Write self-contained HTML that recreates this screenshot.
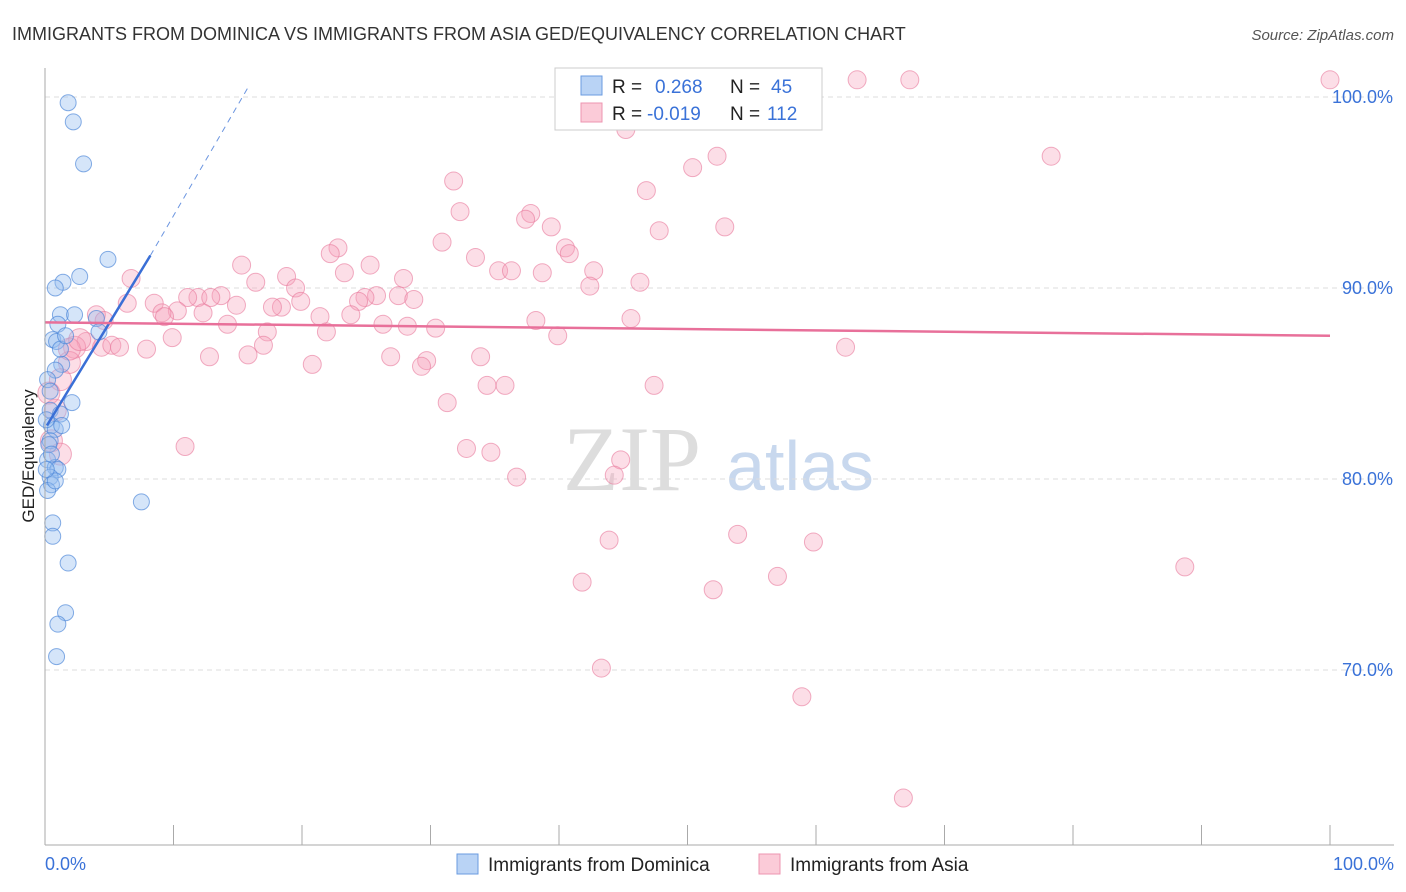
<!DOCTYPE html>
<html><head><meta charset="utf-8"><style>
body{margin:0;background:#fff;font-family:"Liberation Sans",sans-serif}
svg{display:block}
</style></head><body>
<svg id="chart" width="1406" height="892">
<text x="12" y="40" font-size="18" fill="#333">IMMIGRANTS FROM DOMINICA VS IMMIGRANTS FROM ASIA GED/EQUIVALENCY CORRELATION CHART</text>
<text x="1394" y="40" font-size="15" fill="#555" text-anchor="end" font-style="italic">Source: ZipAtlas.com</text>
<text x="0" y="0" transform="translate(34,456) rotate(-90)" font-size="17" fill="#222" text-anchor="middle">GED/Equivalency</text>
<g><text x="632" y="490" font-size="92" fill="#ddd" text-anchor="middle" font-family="Liberation Serif,serif">ZIP</text><text x="800" y="490" font-size="70" fill="#c8d8ee" text-anchor="middle">atlas</text></g>
<g id="grid"></g><g id="pts"></g><g id="trend"></g>
<line x1="45" y1="68" x2="45" y2="845" stroke="#aaa"/>
<line x1="45" y1="845" x2="1394" y2="845" stroke="#aaa"/>
<text x="45" y="870" font-size="18" fill="#3a72d8">0.0%</text>
<text x="1394" y="870" font-size="18" fill="#3a72d8" text-anchor="end">100.0%</text>
<g>
<rect x="555" y="68" width="267" height="62" fill="#fff" stroke="#ccc"/>
<rect x="581" y="76" width="21" height="19" fill="#b9d3f5" stroke="#6a9be0"/>
<rect x="581" y="103" width="21" height="19" fill="#fbcbd8" stroke="#ee94b0"/>
<text x="612" y="93" font-size="19" fill="#222">R = </text><text x="655" y="93" font-size="19" fill="#3a72d8">0.268</text>
<text x="730" y="93" font-size="19" fill="#222">N = </text><text x="771" y="93" font-size="19" fill="#3a72d8">45</text>
<text x="612" y="120" font-size="19" fill="#222">R = </text><text x="647" y="120" font-size="19" fill="#3a72d8">-0.019</text>
<text x="730" y="120" font-size="19" fill="#222">N = </text><text x="767" y="120" font-size="19" fill="#3a72d8">112</text>
</g>
<g><rect x="457" y="854" width="21" height="20" fill="#b9d3f5" stroke="#6a9be0"/><text x="488" y="871" font-size="19" fill="#222">Immigrants from Dominica</text></g>
<g><rect x="759" y="854" width="21" height="20" fill="#fbcbd8" stroke="#ee94b0"/><text x="790" y="871" font-size="19" fill="#222">Immigrants from Asia</text></g>
</svg>
<script>
const yTicks=[100,90,80,70];
const yTickLabels=["100.0%","90.0%","80.0%","70.0%"];
const xTicks=[0,10,20,30,40,50,60,70,80,90,100];
const blueX=[1.8,2.2,3.0,4.9,2.7,1.4,0.8,1.2,2.3,1.0,4.0,0.6,0.9,1.3,0.8,0.2,2.1,0.4,1.2,0.5,0.8,0.4,0.2,0.8,1.0,0.4,0.5,0.2,7.5,0.6,0.6,1.8,1.6,1.0,0.9,1.2,4.2,0.4,0.3,0.5,0.8,0.1,1.3,1.6,0.1];
const blueY=[99.7,98.7,96.5,91.5,90.6,90.3,90.0,88.6,88.6,88.1,88.4,87.3,87.2,86.0,85.7,85.2,84.0,83.6,83.4,82.8,82.6,82.0,81.0,80.6,80.5,80.1,79.7,79.4,78.8,77.7,77.0,75.6,73.0,72.4,70.7,86.8,87.7,84.6,81.8,81.3,79.9,80.5,82.8,87.5,83.1];
const pinkX=[100,63.2,67.3,53.3,45.2,52.3,50.4,78.3,31.8,46.8,32.3,37.8,37.4,39.4,47.8,52.9,30.9,22.8,22.2,40.5,40.8,33.5,15.3,25.3,35.3,36.3,38.7,23.3,42.7,18.8,6.7,46.3,42.4,16.4,27.9,19.5,25.8,24.9,11.9,11.1,13.7,12.9,8.5,6.4,27.5,28.7,19.9,18.4,17.7,24.4,14.9,10.3,12.3,9.1,9.3,21.4,23.8,4.0,4.6,14.2,26.3,28.2,38.2,45.6,30.4,17.3,21.9,9.9,39.9,3.2,2.3,4.4,5.2,5.8,7.9,17.0,62.3,12.8,15.8,26.9,33.9,29.7,29.3,20.8,1.9,34.4,35.8,47.4,31.3,10.9,32.8,34.7,44.8,36.7,44.3,53.9,43.9,59.8,88.7,41.8,57.0,52.0,43.3,58.9,66.8,1.2,0.8,0.5,1.2,1.9,2.7,0.3];
const pinkY=[100.9,100.9,100.9,99.6,98.3,96.9,96.3,96.9,95.6,95.1,94.0,93.9,93.6,93.2,93.0,93.2,92.4,92.1,91.8,92.1,91.8,91.6,91.2,91.2,90.9,90.9,90.8,90.8,90.9,90.6,90.5,90.3,90.1,90.3,90.5,90.0,89.6,89.5,89.5,89.5,89.6,89.5,89.2,89.2,89.6,89.4,89.3,89.0,89.0,89.3,89.1,88.8,88.7,88.7,88.5,88.5,88.6,88.6,88.3,88.1,88.1,88.0,88.3,88.4,87.9,87.7,87.7,87.4,87.5,87.2,86.9,86.9,87.0,86.9,86.8,87.0,86.9,86.4,86.5,86.4,86.4,86.2,85.9,86.0,86.1,84.9,84.9,84.9,84.0,81.7,81.6,81.4,81.0,80.1,80.2,77.1,76.8,76.7,75.4,74.6,74.9,74.2,70.1,68.6,63.3,85.2,83.6,82.0,81.3,86.8,87.3,84.5];
const blueTrend=[[0.15,82.8],[8.2,91.7],[15.8,100.5]];
const pinkTrend=[[0,88.2],[100,87.5]];
const X=v=>45+v*12.85, Y=v=>97+(100-v)*19.1;
const NS="http://www.w3.org/2000/svg";
function mk(tag,attrs,parent){const e=document.createElementNS(NS,tag);for(const k in attrs)e.setAttribute(k,attrs[k]);parent.appendChild(e);return e;}
const grid=document.getElementById('grid'),pts=document.getElementById('pts'),tr=document.getElementById('trend');
yTicks.forEach((t,i)=>{
 const l=mk('line',{x1:45,x2:1394,y1:Y(t),y2:Y(t),stroke:'#ddd','stroke-dasharray':'5,4'},grid);
 
 
 const tx=mk('text',{x:1393,y:Y(t)+6,'font-size':18,fill:'#3a72d8','text-anchor':'end'},grid);
 tx.textContent=yTickLabels[i];
 
 
});
xTicks.forEach(t=>{
 const l=mk('line',{x1:X(t),x2:X(t),y1:825,y2:845,stroke:'#aaa'},grid);
 
 
});
pinkX.forEach((x,i)=>{
 const c=mk('circle',{cx:X(x),cy:Y(pinkY[i]),r:(x<3?11:9),fill:'rgba(245,160,185,0.35)',stroke:'rgba(232,120,155,0.6)','stroke-width':1},pts);
 
 
});
blueX.forEach((x,i)=>{
 const c=mk('circle',{cx:X(x),cy:Y(blueY[i]),r:8,fill:'rgba(150,190,240,0.4)',stroke:'rgba(70,130,215,0.65)','stroke-width':1},pts);
 
 
});
const b1=mk('line',{x1:X(blueTrend[0][0]),y1:Y(blueTrend[0][1]),x2:X(blueTrend[1][0]),y2:Y(blueTrend[1][1]),stroke:'#3a6fd6','stroke-width':2.5},tr);


const b2=mk('line',{x1:X(blueTrend[1][0]),y1:Y(blueTrend[1][1]),x2:X(blueTrend[2][0]),y2:Y(blueTrend[2][1]),stroke:'#6b95e0','stroke-width':1,'stroke-dasharray':'6,5'},tr);


const p1=mk('line',{x1:X(pinkTrend[0][0]),y1:Y(pinkTrend[0][1]),x2:X(pinkTrend[1][0]),y2:Y(pinkTrend[1][1]),stroke:'#e8709a','stroke-width':2.5},tr);


</script>
</body></html>
